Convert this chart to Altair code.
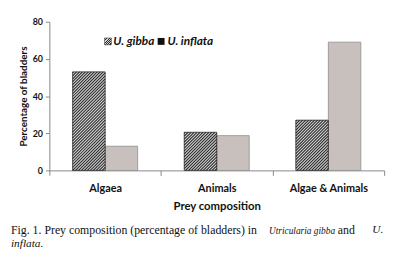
import math
import altair as alt
import pandas as pd

categories = ["Algaea", "Animals", "Algae & Animals"]
species = ["U. gibba", "U. inflata"]
gibba = [53, 20.5, 27]
inflata = [13, 18.7, 69]
y_ticks = [0, 20, 40, 60, 80]

rows = []
for c, g, i in zip(categories, gibba, inflata):
    rows.append({"cat": c, "sp": species[0], "v": g})
    rows.append({"cat": c, "sp": species[1], "v": i})
df = pd.DataFrame(rows)

W, H = 340, 151
YMAX = 80
BAR_W = 33.0
band = W / len(categories)
pad_outer = (band / BAR_W - 2) / 2
PX = H / YMAX  # pixels per data unit

SANS = "Lato"
SERIF = "Liberation Serif"
DARK, LIGHT = "#262626", "#d6d6d6"
PERIOD = 3.0

yscale = alt.Scale(domain=[0, YMAX], nice=False)
xscale = alt.Scale(domain=categories, paddingInner=0, paddingOuter=0)
xo_enc = alt.XOffset("sp:N", scale=alt.Scale(domain=species, paddingInner=0, paddingOuter=pad_outer))

x_main = alt.X(
    "cat:N",
    sort=categories,
    scale=xscale,
    axis=alt.Axis(
        title="Prey composition",
        labelAngle=0,
        labelFont=SANS,
        labelFontWeight="bold",
        labelFontSize=11,
        labelColor="#111",
        labelPadding=7,
        tickBand="extent",
        tickSize=5,
        tickColor="#888",
        domainColor="#888",
        titleFont=SANS,
        titleFontWeight="bold",
        titleFontSize=11.5,
        titleColor="#111",
        titlePadding=8,
    ),
)
x_plain = alt.X("cat:N", sort=categories, scale=xscale, axis=None)

y_axis = alt.Axis(
    title="Percentage of bladders",
    values=y_ticks,
    grid=False,
    labelFont=SANS,
    labelFontWeight="bold",
    labelFontSize=9,
    labelColor="#111",
    labelPadding=3,
    tickSize=4,
    tickColor="#888",
    domainColor="#888",
    titleFont=SANS,
    titleFontWeight="bold",
    titleFontSize=10,
    titleColor="#111",
    titlePadding=4,
)


def y_enc(field):
    return alt.Y(field, type="quantitative", scale=yscale, axis=y_axis)


base = alt.Chart(df)

layers = [
    base.transform_filter(alt.datum.sp == species[1])
    .mark_bar(fill="#c8c0bd", stroke="#8c8c8c", strokeWidth=0.8)
    .encode(x=x_main, y=y_enc("v"), xOffset=xo_enc),
    base.transform_filter(alt.datum.sp == species[0])
    .mark_bar(fill=LIGHT, strokeWidth=0)
    .encode(x=x_plain, y=y_enc("v"), xOffset=xo_enc),
]

# diagonal hatching of the U. gibba bars, derived from the bar values
left_px = pad_outer * BAR_W  # left edge of the first sub-band inside each category band
hatch_rows = []
for idx, g in enumerate(gibba):
    h = g * PX
    c = -h + 1.0
    while c < BAR_W:
        xs, xe = max(0.0, c), min(BAR_W, c + h)
        if xe - xs > 0.3:
            hatch_rows.append({
                "xa": idx + (left_px + xs) / band,
                "xb": idx + (left_px + xe) / band,
                "ya": (xs - c) / PX,
                "yb": (xe - c) / PX,
            })
        c += PERIOD
layers.append(
    alt.Chart(pd.DataFrame(hatch_rows))
    .mark_rule(color=DARK, strokeWidth=1.05)
    .encode(
        x=alt.X("xa:Q", scale=alt.Scale(domain=[0, len(categories)], nice=False, zero=False), axis=None),
        x2="xb:Q",
        y=y_enc("ya"),
        y2="yb:Q",
    )
)
layers.append(
    base.transform_filter(alt.datum.sp == species[0])
    .mark_bar(fillOpacity=0, stroke="#222", strokeWidth=0.8)
    .encode(x=x_plain, y=y_enc("v"), xOffset=xo_enc)
)


def small_hatch(w, h, period=2.5):
    L = w + h
    n = int(math.ceil(L / period))
    stops = []
    for j in range(n):
        a, m, b = j / n, (j + 0.5) / n, (j + 1) / n
        stops += [
            alt.GradientStop(offset=a, color=DARK),
            alt.GradientStop(offset=m, color=DARK),
            alt.GradientStop(offset=m, color=LIGHT),
            alt.GradientStop(offset=b, color=LIGHT),
        ]
    D = w * w + h * h
    return alt.LinearGradient(gradient="linear", stops=stops, x1=0, y1=0, x2=w * L / D, y2=h * L / D)


one = pd.DataFrame({"t": [""]})

# legend
layers.append(
    alt.Chart(one).mark_square(size=49, fill=small_hatch(7, 7), stroke="#333", strokeWidth=0.5, opacity=1)
    .encode(x=alt.value(59.5), y=alt.value(20))
)
layers.append(
    alt.Chart(one).mark_square(size=49, fill="#111", opacity=1)
    .encode(x=alt.value(113.5), y=alt.value(20))
)
for txt, xpos in [(species[0], 65), (species[1], 120)]:
    layers.append(
        alt.Chart(pd.DataFrame({"t": [txt]}))
        .mark_text(font=SANS, fontWeight="bold", fontStyle="italic", fontSize=12, align="left", baseline="middle", color="#111")
        .encode(text="t:N", x=alt.value(xpos), y=alt.value(20))
    )

# caption
caption = [
    ("Fig. 1. Prey composition (percentage of bladders) in", "normal", 12, -39, 212),
    ("Utricularia gibba", "italic", 9.5, 223, 212.5),
    ("and", "normal", 12, 293, 212),
    ("U.", "italic", 11.5, 328, 212),
    ("inflata.", "italic", 11.5, -39, 226),
]
for txt, style, fs, xpos, ypos in caption:
    layers.append(
        alt.Chart(pd.DataFrame({"t": [txt]}))
        .mark_text(font=SERIF, fontStyle=style, fontSize=fs, align="left", baseline="middle", color="#111")
        .encode(text="t:N", x=alt.value(xpos), y=alt.value(ypos))
    )

chart = (
    alt.layer(*layers)
    .resolve_scale(x="independent")
    .properties(
        width=W,
        height=H,
        padding={"left": 42, "top": 12, "right": 8, "bottom": 84},
        autosize=alt.AutoSizeParams(type="none"),
    )
    .configure_view(stroke=None)
)

chart.save("out.html", embed_options={"renderer": "svg", "actions": False})
